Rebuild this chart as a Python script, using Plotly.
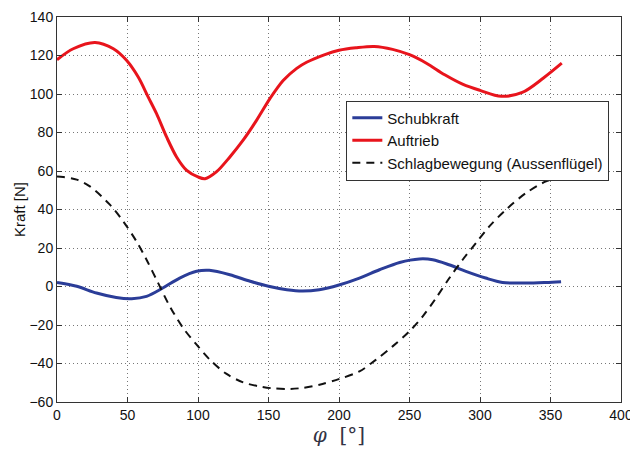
import plotly.graph_objects as go

# Schubkraft (thrust)
phi_schub = [0, 14, 28, 42, 53, 63.5, 75, 87, 99, 108, 122.6, 137, 150, 163, 174, 186,
             200, 214.5, 228.7, 243, 257, 266.5, 278, 290, 304, 316, 332.7, 346.8, 357.5]
schubkraft = [2.1, 0.1, -3.4, -5.7, -6.3, -5.1, -0.8, 4.4, 7.9, 8.4, 6.1, 2.7, 0.1, -1.7,
              -2.4, -1.7, 0.8, 4.4, 8.7, 12.5, 14.3, 13.9, 11.3, 7.9, 4.4, 2.1, 1.8, 2.1, 2.5]

# Auftrieb (lift)
phi_auf = [0, 11.5, 27, 40, 49.3, 57.6, 64.7, 70.6, 77.7, 84.8, 92, 100, 105, 113, 122.6,
           132, 141.5, 151, 160.4, 170, 177, 190, 200, 212, 225, 238, 250, 262, 275, 288,
           300, 315, 330, 345, 358]
auftrieb = [117.8, 123.5, 126.8, 123.5, 117.5, 108.8, 98.4, 89.8, 77.7, 67.3, 60.3, 56.9,
            56, 59.5, 67.3, 76, 86.3, 97.6, 107, 113.3, 116.5, 120.5, 122.7, 124, 124.7,
            123.2, 120.4, 116, 110, 105, 101.9, 98.8, 100.8, 108.3, 116]

# Schlagbewegung (flapping motion, outer wing)
phi_schlag = [0, 4.4, 14, 23.3, 37.5, 47, 56.4, 63.5, 70.6, 80, 89.5, 99, 108.4, 120, 132,
              143.7, 153, 165, 174, 186.2, 200.3, 214.5, 226.3, 238, 249.9, 259.4, 268.8,
              278.3, 287.7, 297.2, 306.6, 318.4, 332.7, 346.8, 358]
schlag = [57.2, 56.9, 55.5, 52, 42.5, 33.8, 23.4, 13.9, 3.5, -10.3, -21.6, -30.2, -38,
          -45.3, -49.8, -51.9, -52.9, -53.2, -52.7, -51, -48, -44.1, -38, -31.1, -23.3,
          -15.5, -6, 4.4, 13.9, 22.6, 31.2, 39.9, 48.6, 54.6, 56.9]

names = ["Schubkraft", "Auftrieb", "Schlagbewegung (Aussenflügel)"]

fig = go.Figure()
fig.add_trace(go.Scatter(x=phi_schub, y=schubkraft, name=names[0], mode="lines",
                         line=dict(color="#2b3d98", width=3, shape="spline", smoothing=0.9)))
fig.add_trace(go.Scatter(x=phi_auf, y=auftrieb, name=names[1], mode="lines",
                         line=dict(color="#e8141c", width=3, shape="spline", smoothing=0.9)))
fig.add_trace(go.Scatter(x=phi_schlag, y=schlag, name=names[2], mode="lines",
                         line=dict(color="#111111", width=2, dash="8px,6px", shape="spline",
                                   smoothing=0.9)))

axis_common = dict(showline=True, linecolor="#333333", linewidth=1, mirror="ticks",
                   ticks="inside", ticklen=5, tickcolor="#333333",
                   showgrid=True, gridcolor="#777777", griddash="1px,3px", gridwidth=1,
                   zeroline=False, automargin=False, ticklabeloverflow="allow",
                   tickfont=dict(family="Arial", size=14, color="#111111"))

fig.update_xaxes(range=[0, 400], dtick=50, **axis_common,
                 title=dict(text="<i>φ</i>  [°]",
                            font=dict(family="DejaVu Serif", size=20, color="#333344"),
                            standoff=1))
fig.update_yaxes(range=[-60, 140], dtick=20, **axis_common,
                 title=dict(text="Kraft [N]", font=dict(family="Arial", size=15, color="#111111"),
                            standoff=0))

fig.update_layout(
    width=630, height=450,
    margin=dict(l=57, r=9, t=17, b=48),
    paper_bgcolor="white", plot_bgcolor="white",
    legend=dict(x=0.513, y=0.783, xanchor="left", yanchor="top",
                bordercolor="#333333", borderwidth=1, bgcolor="white",
                font=dict(family="Arial", size=15, color="#111111"),
                tracegroupgap=0),
    showlegend=True,
)

fig.write_html("out.html", config={"displayModeBar": False},
               post_script="document.body.style.margin='0';document.body.style.overflow='hidden';")
